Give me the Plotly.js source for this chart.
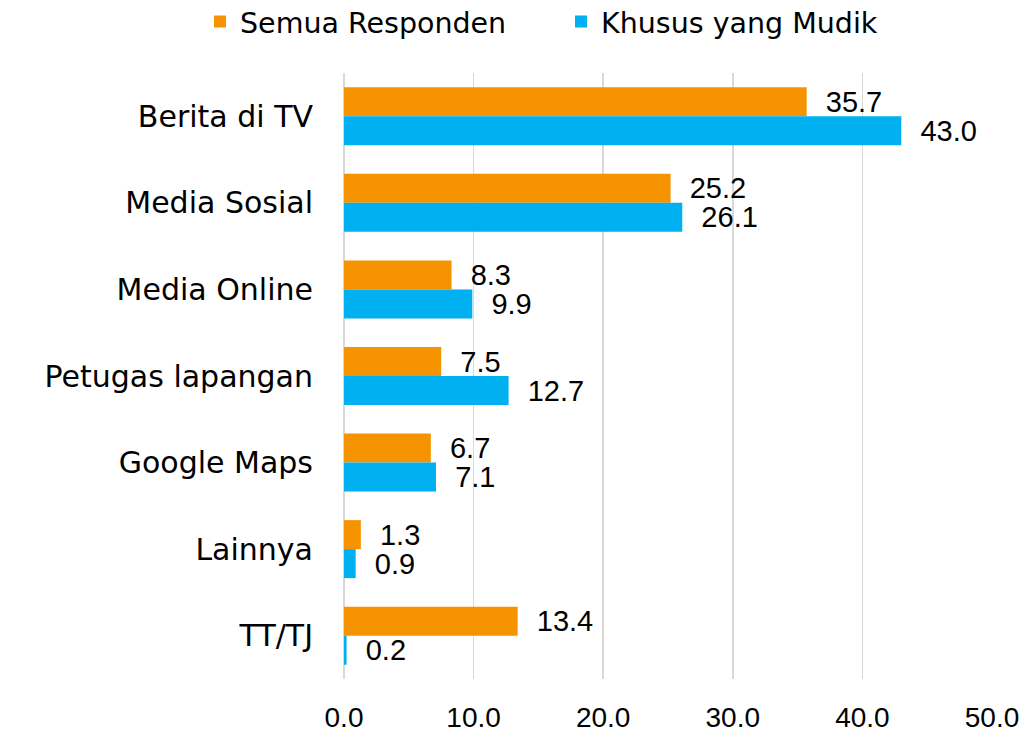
<!DOCTYPE html>
<html>
<head>
<meta charset="utf-8">
<script src="https://cdn.plot.ly/plotly-3.0.1.min.js"></script>
<style>html,body{margin:0;padding:0;background:#fff;}#chart{width:1036px;height:733px;}</style>
</head>
<body>
<div id="chart"></div>
<script>
const categories = ["Berita di TV", "Media Sosial", "Media Online", "Petugas lapangan", "Google Maps", "Lainnya", "TT/TJ"];
const semuaResponden = [35.7, 25.2, 8.3, 7.5, 6.7, 1.3, 13.4];
const khususMudik = [43.0, 26.1, 9.9, 12.7, 7.1, 0.9, 0.2];
const seriesNames = ["Semua Responden", "Khusus yang Mudik"];
const xTickVals = [0, 10, 20, 30, 40, 50];
const xTickText = ["0.0", "10.0", "20.0", "30.0", "40.0", "50.0"];

const FONT = "DejaVu Sans, sans-serif";
const NUMFONT = "Liberation Sans, Arial, sans-serif";
const pad = "\u00a0\u00a0";
function mk(vals, name, color, legendId) {
  return {
    type: "bar", orientation: "h", name: name, legend: legendId,
    x: vals, y: categories,
    marker: {color: color},
    text: vals.map(v => pad + v.toFixed(1)),
    textposition: "outside", cliponaxis: false, constraintext: "none",
    textfont: {family: NUMFONT, size: 29, color: "#000"},
    hoverinfo: "skip"
  };
}
const data = [
  mk(semuaResponden, seriesNames[0], "#F59300", "legend"),
  mk(khususMudik, seriesNames[1], "#00B0F0", "legend2")
];
const legFont = {family: FONT, size: 28.5, color: "#000"};
const layout = {
  width: 1036, height: 733,
  margin: {l: 344, r: 44, t: 73, b: 54},
  paper_bgcolor: "#fff", plot_bgcolor: "#fff",
  font: {family: FONT, color: "#000"},
  barmode: "group", bargap: 0.33, bargroupgap: 0,
  showlegend: true,
  legend: {orientation: "h", x: 200/1036, xref: "container", xanchor: "left", y: 0.97, yanchor: "middle", yref: "container",
           font: legFont, itemwidth: 30},
  legend2: {orientation: "h", x: 561/1036, xref: "container", xanchor: "left", y: 0.97, yanchor: "middle", yref: "container",
           font: legFont, itemwidth: 30},
  xaxis: {range: [0, 50], tickvals: xTickVals, ticktext: xTickText, showgrid: true,
          gridcolor: "#D9D9D9", gridwidth: 1.5, zeroline: true, zerolinecolor: "#D9D9D9", zerolinewidth: 1.5,
          showline: false, ticks: "", ticklabelstandoff: 19,
          tickfont: {family: NUMFONT, size: 28, color: "#000"}, fixedrange: true},
  yaxis: {autorange: "reversed", showgrid: false, zeroline: false, showline: false, ticks: "",
          ticklabelstandoff: 30, tickfont: {family: FONT, size: 30, color: "#000"}, fixedrange: true}
};
Plotly.newPlot("chart", data, layout, {displayModeBar: false, staticPlot: true});
</script>
</body>
</html>
